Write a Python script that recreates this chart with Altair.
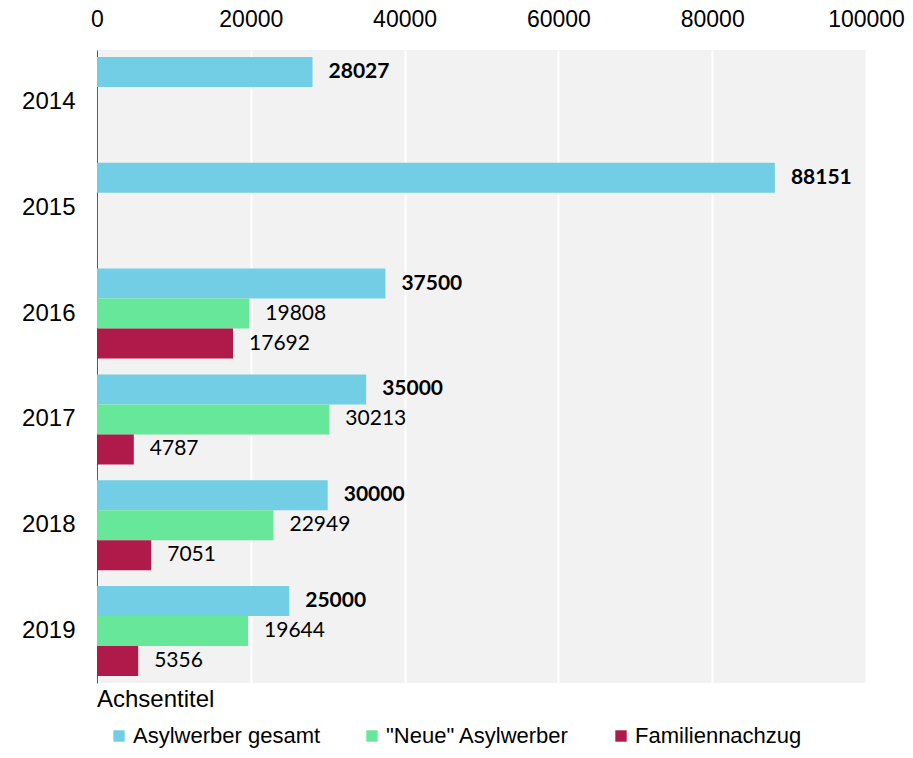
import altair as alt
import pandas as pd

years = ["2014", "2015", "2016", "2017", "2018", "2019"]
series = ["Asylwerber gesamt", '"Neue" Asylwerber', "Familiennachzug"]
gesamt = [28027, 88151, 37500, 35000, 30000, 25000]
neue = [None, None, 19808, 30213, 22949, 19644]
familie = [None, None, 17692, 4787, 7051, 5356]
colors = ["#71CEE4", "#67E799", "#B01A4B"]
x_ticks = [0, 20000, 40000, 60000, 80000, 100000]

rows = []
for i, yr in enumerate(years):
    for s, vals in zip(series, [gesamt, neue, familie]):
        if vals[i] is not None:
            rows.append({"Jahr": yr, "Serie": s, "Wert": vals[i]})
df = pd.DataFrame(rows)

W, H = 769, 633
AX_FONT = "Liberation Sans"
LBL_FONT = "Lato"

base = alt.Chart(df).encode(
    y=alt.Y(
        "Jahr:N",
        scale=alt.Scale(domain=years, paddingInner=0.15, paddingOuter=0.066),
        axis=alt.Axis(
            title=None, ticks=False, labelPadding=22, labelFontSize=24,
            labelFont=AX_FONT, labelColor="#000000", domainColor="#595959",
            domainWidth=1, grid=False,
        ),
    ),
    yOffset=alt.YOffset("Serie:N", scale=alt.Scale(domain=series, paddingInner=0, paddingOuter=0)),
    x=alt.X(
        "Wert:Q",
        scale=alt.Scale(domain=[0, 100000], nice=False),
        axis=alt.Axis(
            orient="top", title=None, values=x_ticks, format="d", domain=False,
            ticks=False, grid=True, gridColor="#FFFFFF", gridWidth=2,
            labelFontSize=23, labelFont=AX_FONT, labelColor="#000000",
            labelPadding=19, labelFlush=False, labelOverlap=False,
        ),
    ),
)

bars = base.mark_bar().encode(
    color=alt.Color(
        "Serie:N",
        scale=alt.Scale(domain=series, range=colors),
        legend=alt.Legend(
            orient="none", legendX=11, legendY=675, direction="horizontal",
            title=None, symbolType="square", symbolSize=130, symbolStrokeWidth=0,
            labelFontSize=22, labelFont=AX_FONT, labelColor="#000000",
            columnPadding=40, labelOffset=3, padding=0, labelLimit=0,
        ),
    )
)

bold_labels = base.transform_filter(alt.datum.Serie == series[0]).mark_text(
    align="left", baseline="middle", dx=16, font=LBL_FONT, fontSize=21,
    fontWeight="bold", color="#000000",
).encode(text=alt.Text("Wert:Q", format="d"))

plain_labels = base.transform_filter(alt.datum.Serie != series[0]).mark_text(
    align="left", baseline="middle", dx=16, font=LBL_FONT, fontSize=21,
    color="#000000",
).encode(text=alt.Text("Wert:Q", format="d"))

axis_title = alt.Chart(pd.DataFrame({"t": ["Achsentitel"]})).mark_text(
    align="left", baseline="alphabetic", font=AX_FONT, fontSize=24, color="#000000"
).encode(x=alt.value(0), y=alt.value(H + 24), text="t:N")

chart = alt.layer(bars, bold_labels, plain_labels, axis_title).properties(
    width=W,
    height=H,
    autosize=alt.AutoSizeParams(type="none"),
    padding={"left": 89, "top": 42, "right": 39, "bottom": 67},
).configure_view(fill="#F2F2F2", stroke=None)

chart.save("out.html", embed_options={"renderer": "svg", "actions": False})
